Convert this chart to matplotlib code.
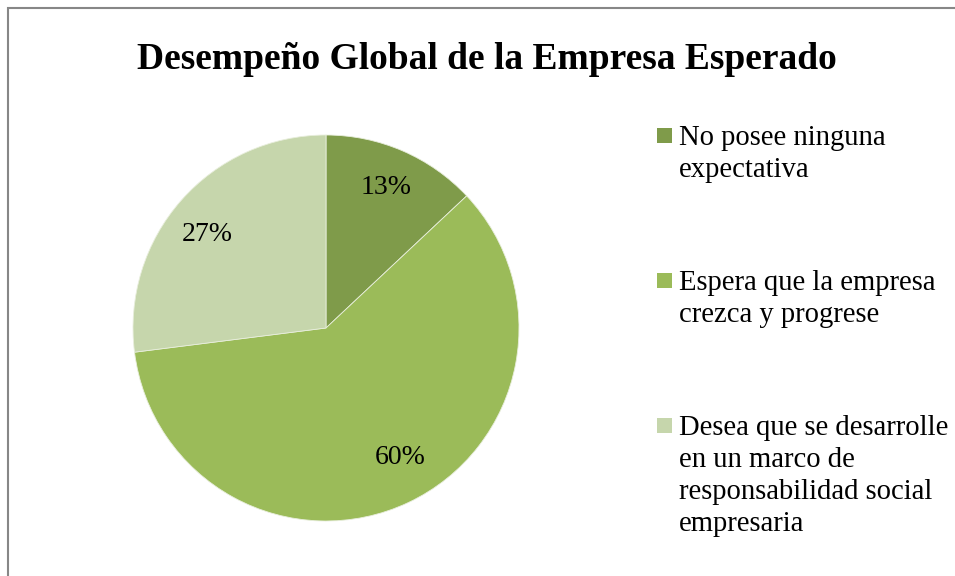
import matplotlib
matplotlib.use("Agg")
import matplotlib.pyplot as plt
from matplotlib.patches import Rectangle
import numpy as np

categories = ["No posee ninguna\nexpectativa",
              "Espera que la empresa\ncrezca y progrese",
              "Desea que se desarrolle\nen un marco de\nresponsabilidad social\nempresaria"]
values = [13, 60, 27]
colors = ["#7F9B4A", "#9BBB59", "#C6D6AC"]
title = "Desempeño Global de la Empresa Esperado"

plt.rcParams['font.family'] = ['Liberation Serif', 'DejaVu Serif']

W, H = 955, 576
fig = plt.figure(figsize=(W/100, H/100), dpi=100)

# outer frame
fig.patches.append(Rectangle((8/W, -0.01), 1.02, (H-8)/H + 0.01, transform=fig.transFigure,
                             fill=False, edgecolor="#878787", linewidth=1.5))

fig.text(487/W, 1 - 69/H, title, ha="center", va="baseline", fontsize=27, fontweight="bold")

cx, cy, r = 326, 328, 193
ax = fig.add_axes([(cx - r)/W, 1 - (cy + r)/H, 2*r/W, 2*r/H])
wedges, texts = ax.pie(values, colors=colors, startangle=90, counterclock=False,
                       wedgeprops=dict(edgecolor="#E8EEDC", linewidth=0.6), radius=1.0)
ax.set_xlim(-1, 1); ax.set_ylim(-1, 1)
ax.set_aspect("equal")
ax.axis("off")

# label layout: radius and pixel offsets (x right, y down)
label_r = [0.78, 0.77, 0.78]
label_off = [(0, -2), (11, -5), (-6, 6)]
start = 90.0
for v, lr, (ox, oy) in zip(values, label_r, label_off):
    ang = start - v/sum(values)*360/2
    start -= v/sum(values)*360
    ax.annotate(f"{v}%", (lr*np.cos(np.radians(ang)), lr*np.sin(np.radians(ang))),
                xytext=(ox*0.72, -oy*0.72), textcoords="offset points",
                ha="center", va="center", fontsize=20)

# legend
baselines = [145, 290, 435]
line_h = 32
for cat, col, by in zip(categories, colors, baselines):
    fig.patches.append(Rectangle((657/W, 1 - (by - 2)/H), 15/W, 15/H, transform=fig.transFigure,
                                 facecolor=col, edgecolor="none"))
    for i, line in enumerate(cat.split("\n")):
        fig.text(679/W, 1 - (by + i*line_h)/H, line, ha="left", va="baseline", fontsize=20.6)

fig.savefig("out.png", dpi=100)
